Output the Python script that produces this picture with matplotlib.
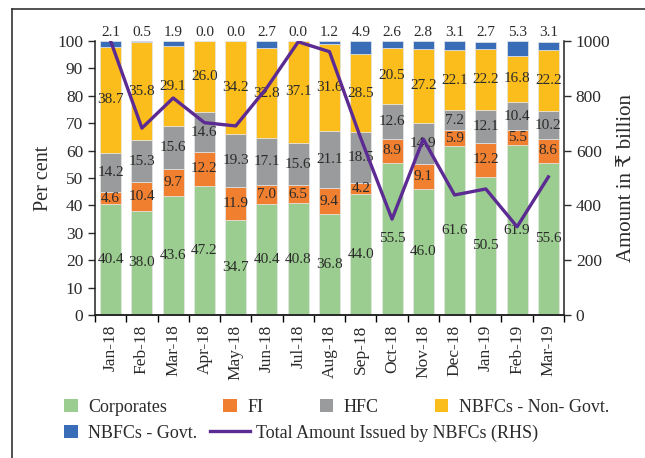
import numpy as np
import matplotlib
matplotlib.use("Agg")
import matplotlib.pyplot as plt
from matplotlib.lines import Line2D
from matplotlib.patches import Patch

plt.rcParams['font.family'] = ['Liberation Serif', 'DejaVu Serif']

months = ["Jan-18", "Feb-18", "Mar-18", "Apr-18", "May-18", "Jun-18", "Jul-18",
          "Aug-18", "Sep-18", "Oct-18", "Nov-18", "Dec-18", "Jan-19", "Feb-19", "Mar-19"]
corporates = [40.4, 38.0, 43.6, 47.2, 34.7, 40.4, 40.8, 36.8, 44.0, 55.5, 46.0, 61.6, 50.5, 61.9, 55.6]
fi = [4.6, 10.4, 9.7, 12.2, 11.9, 7.0, 6.5, 9.4, 4.2, 8.9, 9.1, 5.9, 12.2, 5.5, 8.6]
hfc = [14.2, 15.3, 15.6, 14.6, 19.3, 17.1, 15.6, 21.1, 18.5, 12.6, 14.9, 7.2, 12.1, 10.4, 10.2]
nbfc_non_govt = [38.7, 35.8, 29.1, 26.0, 34.2, 32.8, 37.1, 31.6, 28.5, 20.5, 27.2, 22.1, 22.2, 16.8, 22.2]
nbfc_govt = [2.1, 0.5, 1.9, 0.0, 0.0, 2.7, 0.0, 1.2, 4.9, 2.6, 2.8, 3.1, 2.7, 5.3, 3.1]
total_amount = [1000, 682, 792, 702, 690, 830, 997, 961, 645, 350, 642, 438, 460, 322, 504]

series = [
    ("Corporates", corporates, "#9acd8f"),
    ("FI", fi, "#f08030"),
    ("HFC", hfc, "#999b9c"),
    ("NBFCs - Non- Govt.", nbfc_non_govt, "#fbbd1b"),
    ("NBFCs - Govt.", nbfc_govt, "#3a6db8"),
]
line_color = "#5b2a92"
text_color = "#2b2b2b"

fig = plt.figure(figsize=(6.45, 4.58), dpi=100)
ax = fig.add_axes([0.1473, 0.3122, 0.7271, 0.5983])
ax2 = ax.twinx()

x = np.arange(len(months))
bottom = np.zeros(len(months))
handles = []
for name, vals, col in series:
    vals = np.array(vals)
    ax.bar(x, vals, 0.67, bottom=bottom, color=col, edgecolor="#e6e6e6", linewidth=0.5)
    if name == "NBFCs - Govt.":
        for xi, v in zip(x, vals):
            ax.text(xi, 103, f"{v:.1f}", ha="center", va="center", fontsize=11,
                    color=text_color, clip_on=False)
    else:
        for xi, b, v in zip(x, bottom, vals):
            ax.text(xi, b + v / 2, f"{v:.1f}", ha="center", va="center", fontsize=11,
                    color=text_color)
    bottom += vals
    handles.append(Patch(facecolor=col, label=name))

ax2.plot(x, total_amount, color=line_color, linewidth=2.4)

ax.set_xlim(-0.5, len(months) - 0.5)
ax.set_ylim(0, 100)
ax.set_yticks(range(0, 101, 10))
ax2.set_ylim(0, 1000)
ax2.set_yticks(range(0, 1001, 200))

ax.set_xticks(x)
ax.set_xticklabels(months, rotation=90, fontsize=12.5)
ax.set_xticks(np.arange(len(months) + 1) - 0.5, minor=True)
ax.tick_params(axis="x", which="major", length=0, pad=7)
ax.tick_params(axis="x", which="minor", length=5, width=1, direction="out")
ax.tick_params(axis="y", length=5, width=1, labelsize=12.5, colors=text_color)
ax2.tick_params(axis="y", length=5, width=1, labelsize=12.5, colors=text_color)
ax.tick_params(axis="x", colors=text_color)

for a in (ax, ax2):
    a.spines["top"].set_visible(False)
    for s in a.spines.values():
        s.set_linewidth(1.1)
        s.set_color("#222222")
ax2.spines["left"].set_visible(False)
ax.spines["right"].set_visible(False)

ax.set_ylabel("Per cent", fontsize=14.5, color=text_color, labelpad=3)
ax2.set_ylabel("Amount in ₹ billion", fontsize=15, color=text_color, labelpad=5)

leg_kw = dict(frameon=False, fontsize=13, labelcolor=text_color,
              borderpad=0, borderaxespad=0)
leg1 = fig.legend(handles=handles[:4], loc="center left", bbox_to_anchor=(64 / 645, 1 - 407 / 458),
                  ncol=4, handlelength=0.75, handleheight=0.75, handletextpad=0.6,
                  columnspacing=3.1, **leg_kw)
leg2 = fig.legend(handles=[handles[4]], loc="center left", bbox_to_anchor=(64 / 645, 1 - 433 / 458),
                  handlelength=0.75, handleheight=0.75, handletextpad=0.6, **leg_kw)
line_handle = Line2D([], [], color=line_color, linewidth=2.4,
                     label="Total Amount Issued by NBFCs (RHS)")
leg3 = fig.legend(handles=[line_handle], loc="center left", bbox_to_anchor=(210 / 645, 1 - 433 / 458),
                  handlelength=2.2, handletextpad=0.35, **leg_kw)

# outer frame (top and left edges visible)
fig.add_artist(Line2D([12 / 645, 1], [1 - 8.5 / 458] * 2, color="#333333", linewidth=1.2,
                      transform=fig.transFigure))
fig.add_artist(Line2D([12 / 645] * 2, [0, 1 - 8.5 / 458], color="#333333", linewidth=1.2,
                      transform=fig.transFigure))

fig.savefig("out.png", dpi=100)
